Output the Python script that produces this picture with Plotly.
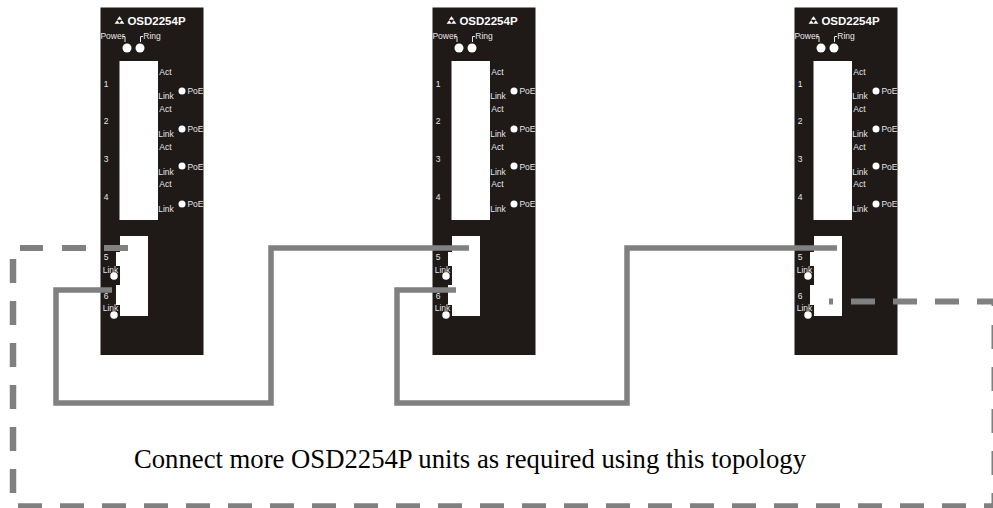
import plotly.graph_objects as go

# --- data (pixel positions on the drawing's own axes, y grows downward)
panel_offsets = [0, 332, 694]
panel_x = [100.5, 203.5, 203.5, 100.5, 100.5]
panel_y = [7.5, 7.5, 355, 355, 7.5]
upper_window_x = [119.5, 158, 158, 119.5, 119.5]
upper_window_y = [61, 61, 220, 220, 61]
lower_window_x = [120, 148, 148, 120, 120, 116, 116, 120, 120, 116, 116, 120, 120]
lower_window_y = [236, 236, 316, 316, 305, 305, 285, 285, 266, 266, 252, 252, 236]

small_labels = ["Power", "Ring", "Act", "Link", "Act", "Link", "Act", "Link", "Act", "Link",
                "1", "2", "3", "4", "PoE", "PoE", "PoE", "PoE", "5", "Link", "6", "Link"]
small_x = [112.5, 152, 165.5, 166, 165.5, 166, 165.5, 166, 165.5, 166,
           106, 106, 106, 106, 195.5, 195.5, 195.5, 195.5, 106, 110.5, 106, 110.5]
small_y = [37, 37, 73, 97, 110, 135, 148, 173, 185, 210,
           85, 122, 160, 198, 92, 130, 168, 205, 258, 271, 297, 309]
title_label = "OSD2254P"
title_x, title_y = 156.5, 22

led_x = [127, 140]
led_y = [48, 48]
poe_dot_x = [182, 182, 182, 182]
poe_dot_y = [91, 129, 166, 204]
link_dot_x = [114, 114]
link_dot_y = [276, 315]
logo_x = [119.5, 117.2, 121.8]
logo_y = [18.5, 22.5, 22.5]
bracket_left_x = [122.5, 125, 125]
bracket_left_y = [36.5, 36.5, 42]
bracket_right_x = [143, 140.5, 140.5]
bracket_right_y = [36.5, 36.5, 42]

link_a_x = [112, 56, 56, 271, 271, 469]
link_a_y = [290, 290, 403, 403, 248, 248]
link_b_x = [456, 397, 397, 627, 627, 837]
link_b_y = [290, 290, 403, 403, 248, 248]

dash_top_left = [(20, 43), (62, 86), (104, 128)]
dash_left = [(259, 283), (301, 325), (343, 367), (385, 409), (427, 451), (469, 493)]
dash_bottom = [(18, 42), (60, 84), (102, 126), (144, 168), (186, 210), (228, 252), (270, 294),
               (312, 336), (354, 378), (396, 420), (438, 462), (480, 504), (522, 546), (564, 588),
               (606, 630), (648, 672), (690, 714), (732, 756), (774, 798), (816, 840), (858, 882),
               (900, 924), (942, 966), (984, 993)]
dash_third = [(829, 833), (851, 875), (893, 917), (935, 959), (977, 993)]
dash_right = [(302, 306), (325, 349), (367, 391), (409, 433), (451, 475), (493, 505)]

caption = "Connect more OSD2254P units as required using this topology"
caption_x, caption_y = 470, 461

PANEL = "#1f1a17"
GREY = "#808080"
SANS = "Liberation Sans, Arial, sans-serif"
SERIF = "Liberation Serif, Times New Roman, serif"


def shifted(values, off):
    return [v + off for v in values]


def horizontal(spans, y):
    xs, ys = [], []
    for a, b in spans:
        xs += [a, b, None]
        ys += [y, y, None]
    return xs, ys


def vertical(spans, x):
    xs, ys = [], []
    for a, b in spans:
        xs += [x, x, None]
        ys += [a, b, None]
    return xs, ys


fig = go.Figure()


def area(x, y, color):
    fig.add_trace(go.Scatter(x=x, y=y, mode="lines", fill="toself", fillcolor=color,
                             line=dict(width=0, color=color), hoverinfo="skip"))


def dots(x, y, size, symbol="circle"):
    fig.add_trace(go.Scatter(x=x, y=y, mode="markers", hoverinfo="skip",
                             marker=dict(color="white", size=size, symbol=symbol, line=dict(width=0))))


for off in panel_offsets:
    area(shifted(panel_x, off), panel_y, PANEL)
    area(shifted(upper_window_x, off), upper_window_y, "white")
    area(shifted(lower_window_x, off), lower_window_y, "white")
    fig.add_trace(go.Scatter(x=shifted(small_x, off), y=small_y, mode="text", text=small_labels,
                             textposition="middle center", hoverinfo="skip", opacity=0.99,
                             textfont=dict(family=SANS, size=8.5, color="#e8e8e8")))
    fig.add_trace(go.Scatter(x=[title_x + off], y=[title_y], mode="text", text=[title_label],
                             textposition="middle center", hoverinfo="skip", opacity=0.99,
                             textfont=dict(family=SANS, size=11.5, color="white", weight="bold")))
    dots(shifted(led_x, off), led_y, 9)
    dots(shifted(poe_dot_x, off), poe_dot_y, 7)
    dots(shifted(link_dot_x, off), link_dot_y, 7.5)
    dots(shifted(logo_x, off), logo_y, 4.5, "triangle-up")
    for bx, by in ((bracket_left_x, bracket_left_y), (bracket_right_x, bracket_right_y)):
        fig.add_trace(go.Scatter(x=shifted(bx, off), y=by, mode="lines", hoverinfo="skip",
                                 line=dict(color="#e6e6e6", width=1)))

for lx, ly in ((link_a_x, link_a_y), (link_b_x, link_b_y)):
    fig.add_trace(go.Scatter(x=lx, y=ly, mode="lines", hoverinfo="skip",
                             line=dict(color=GREY, width=5.5)))

for (dx, dy), w in (
    (horizontal(dash_top_left, 248), 6),
    (vertical(dash_left, 13), 6.5),
    (horizontal(dash_bottom, 506), 5.5),
    (horizontal(dash_third, 301.5), 6),
    (vertical(dash_right, 994.5), 6),
):
    fig.add_trace(go.Scatter(x=dx, y=dy, mode="lines", hoverinfo="skip", connectgaps=False,
                             line=dict(color=GREY, width=w)))

fig.add_trace(go.Scatter(x=[caption_x], y=[caption_y], mode="text", text=[caption],
                         textposition="middle center", hoverinfo="skip", opacity=0.99,
                         textfont=dict(family=SERIF, size=26.7, color="black")))

fig.update_layout(
    width=993, height=508, margin=dict(l=0, r=0, t=0, b=0), autosize=False,
    showlegend=False, paper_bgcolor="white", plot_bgcolor="white",
    xaxis=dict(range=[0, 993], visible=False, fixedrange=True),
    yaxis=dict(range=[508, 0], visible=False, fixedrange=True),
)
fig.write_html("out.html", config=dict(displayModeBar=False),
               post_script="document.body.style.margin='0';document.body.style.overflow='hidden';")
